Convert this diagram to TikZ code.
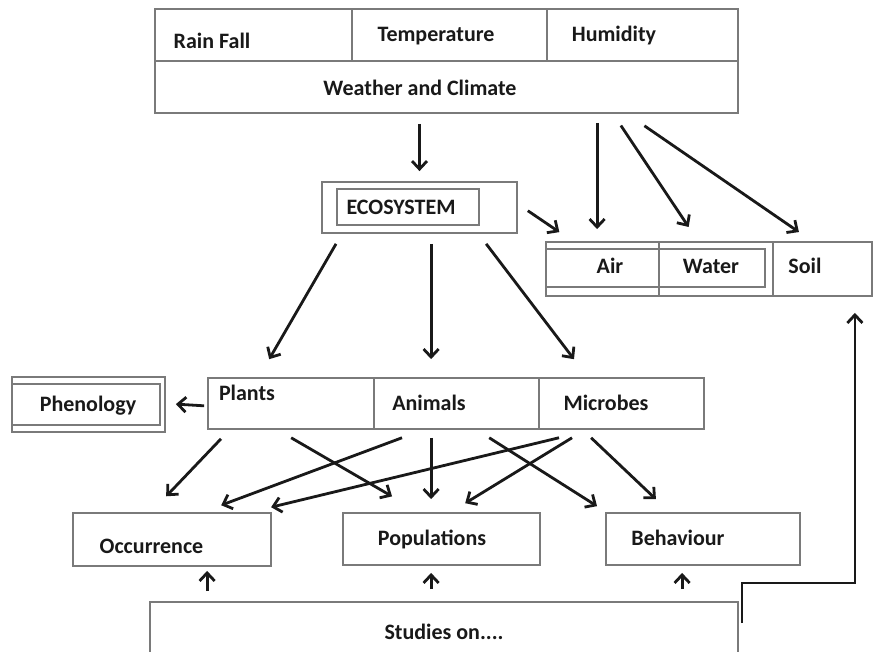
\documentclass[tikz,border=0pt]{standalone}
\usepackage{fontspec}
\setmainfont{Carlito}
\usetikzlibrary{arrows.meta}

\tikzset{
  box/.style={draw=black!52, line width=1.8pt, inner sep=0pt},
  lbl/.style={anchor=base, inner sep=0pt, font=\fontsize{22}{26}\selectfont\bfseries, text=black!90},
  arr/.style={-{Straight Barb[length=8pt,width=15pt]}, line width=2.8pt, draw=black!90},
}

\begin{document}
\begin{tikzpicture}[x=1pt, y=-1pt]
    \useasboundingbox[fill=white] (0,0) rectangle (876,652);

    % weather and climate
    \node[box, minimum width=583pt, minimum height=104pt] (weather) at (446.5,61) {};
    \node[box, minimum width=197pt, minimum height=52pt] (rain) at (253.5,35) {};
    \node[box, minimum width=195pt, minimum height=52pt] (temp) at (449.5,35) {};
    \node[box, minimum width=191pt, minimum height=52pt] (humid) at (642.5,35) {};
    \node[lbl] (rainlbl) at (212,49) {Rain Fall};
    \node[lbl] (templbl) at (436,42) {Temperature};
    \node[lbl] (humidlbl) at (614,42) {Humidity};
    \node[lbl] (weatherlbl) at (420,96) {Weather and Climate};

    % ecosystem
    \node[box, minimum width=195pt, minimum height=51pt] (eco) at (419.5,207.5) {};
    \node[box, minimum width=142pt, minimum height=36pt] (ecoin) at (408,207) {};
    \node[lbl] (ecolbl) at (401,215) {ECOSYSTEM};

    % air water soil
    \node[box, minimum width=326pt, minimum height=54pt] (media) at (709,269) {};
    \node[box, minimum width=113pt, minimum height=54pt] (air) at (602.5,269) {};
    \node[box, minimum width=114pt, minimum height=54pt] (water) at (716,269) {};
    \node[box, minimum width=99pt, minimum height=54pt] (soil) at (822.5,269) {};
    \node[box, minimum width=219pt, minimum height=38pt] (airwater) at (655.5,268) {};
    \node[lbl] (airlbl) at (610,274) {Air};
    \node[lbl] (waterlbl) at (711,274) {Water};
    \node[lbl] (soillbl) at (805,274) {Soil};

    % phenology
    \node[box, minimum width=153pt, minimum height=55pt] (pheno) at (88.5,404.5) {};
    \node[box, minimum width=148pt, minimum height=41pt] (phenoin) at (86,404.5) {};
    \node[lbl] (phenolbl) at (88,412) {Phenology};

    % organisms
    \node[box, minimum width=166pt, minimum height=51pt] (plants) at (291,403.5) {};
    \node[box, minimum width=165pt, minimum height=51pt] (animals) at (456.5,403.5) {};
    \node[box, minimum width=165pt, minimum height=51pt] (microbes) at (621.5,403.5) {};
    \node[lbl] (plantslbl) at (247,401) {Plants};
    \node[lbl] (animalslbl) at (429,410) {Animals};
    \node[lbl] (microbeslbl) at (606,410) {Microbes};

    % studies
    \node[box, minimum width=198pt, minimum height=53pt] (occur) at (172,539.5) {};
    \node[box, minimum width=197pt, minimum height=52pt] (popul) at (441.5,539) {};
    \node[box, minimum width=194pt, minimum height=52pt] (behav) at (703,539) {};
    \node[box, minimum width=588pt, minimum height=58pt] (studies) at (444,631) {};
    \node[lbl] (occurlbl) at (151.5,553) {Occurrence};
    \node[lbl] (popullbl) at (432,545) {Populations};
    \node[lbl] (behavlbl) at (678,545) {Behaviour};
    \node[lbl] (studieslbl) at (444,639) {Studies on....};

    % arrows from weather
    \draw[arr, shorten <=10pt, shorten >=10pt] (weather.south -| eco.north) -- (eco.north);
    \draw[arr, shorten <=9pt, shorten >=12pt] ([xshift=443pt]weather.south west) -- ([xshift=52pt]air.north west);
    \draw[arr, shorten <=14pt, shorten >=17pt] ([xshift=459pt]weather.south west) -- ([xshift=40pt]water.north west);
    \draw[arr, shorten <=21pt, shorten >=16pt] ([xshift=473pt]weather.south west) -- ([xshift=40pt]soil.north west);

    % arrows from ecosystem
    \draw[arr, shorten <=12pt, shorten >=16pt] ([yshift=3.5pt]eco.east) -- ([xshift=27.5pt]air.north west);
    \draw[arr, shorten <=11.5pt, shorten >=20.7pt] ([xshift=20.7pt]eco.south west) -- ([xshift=51.7pt]plants.north west);
    \draw[arr, shorten <=10pt, shorten >=18pt] ([xshift=110pt]eco.south west) -- ([xshift=58pt]animals.north west);
    \draw[arr, shorten <=12.5pt, shorten >=22.5pt] ([xshift=157.5pt]eco.south west) -- ([xshift=49.5pt]microbes.north west);

    \draw[arr, shorten <=3pt, shorten >=10pt] ([yshift=-2.5pt]plants.west) -- (plants.west -| pheno.east);

    % arrows to the studies
    \draw[arr, shorten <=12.3pt, shorten >=21.9pt] ([xshift=22.4pt]plants.south west) -- ([xshift=79pt]occur.north west);
    \draw[arr, shorten <=15.7pt, shorten >=31.3pt] ([xshift=70.5pt]plants.south west) -- ([xshift=77pt]popul.north west);
    \draw[arr, shorten <=22.5pt, shorten >=19.7pt] ([xshift=50pt]animals.south west) -- ([xshift=130.6pt]occur.north west);
    \draw[arr, shorten <=8pt, shorten >=13pt] ([xshift=58pt]animals.south west) -- ([xshift=89pt]popul.north west);
    \draw[arr, shorten <=14.7pt, shorten >=11.1pt] ([xshift=103.7pt]animals.south west) -- ([xshift=1.3pt]behav.north west);
    \draw[arr, shorten <=33.5pt, shorten >=20.9pt] ([xshift=53.5pt]microbes.south west) -- ([xshift=178.7pt]occur.north west);
    \draw[arr, shorten <=15.1pt, shorten >=17pt] ([xshift=46.8pt]microbes.south west) -- ([xshift=108.6pt]popul.north west);
    \draw[arr, shorten <=11.5pt, shorten >=18.7pt] ([xshift=44.7pt]microbes.south west) -- ([xshift=64.4pt]behav.north west);

    \draw[arr, shorten <=10pt, shorten >=4pt] ([xshift=58pt]studies.north west) -- ([xshift=135pt]occur.south west);
    \draw[arr, shorten <=12pt, shorten >=7pt] ([xshift=282pt]studies.north west) -- ([xshift=89pt]popul.south west);
    \draw[arr, shorten <=12pt, shorten >=7pt] ([xshift=533pt]studies.north west) -- ([xshift=77pt]behav.south west);

    \draw[arr, shorten >=16pt] ([xshift=3pt,yshift=8pt]studies.east) -- ++(0,-40) -| ([xshift=-18pt]soil.south east);
\end{tikzpicture}
\end{document}
